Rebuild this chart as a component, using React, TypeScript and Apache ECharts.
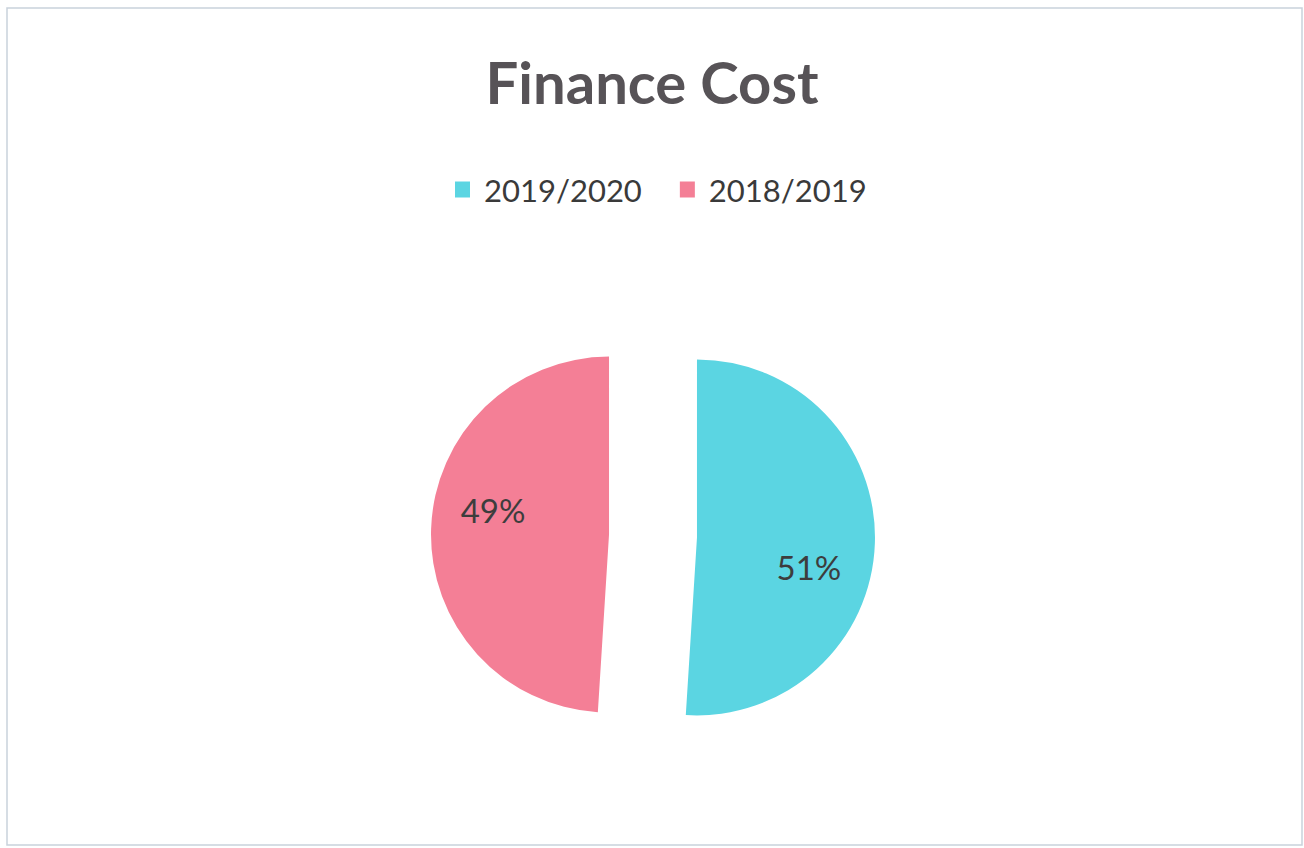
import React, { useEffect, useRef } from "react";
import * as echarts from "echarts";

const categories = ["2019/2020", "2018/2019"];
const values = [51, 49];
const colors = ["#5BD5E2", "#F47F96"];
const titleText = "Finance Cost";

export default function App() {
  const ref = useRef<HTMLDivElement>(null);
  useEffect(() => {
    if (!ref.current) return;
    const chart = echarts.init(ref.current, null, { renderer: "svg" });
    const labelShift = [
      [20, 27],
      [-24, -22],
    ];
    chart.setOption({
      animation: false,
      backgroundColor: "#ffffff",
      title: {
        text: titleText,
        left: "center",
        top: 47,
        textStyle: {
          fontFamily: "Lato",
          fontWeight: "bold",
          fontSize: 58,
          color: "#575357",
        },
      },
      legend: {
        top: 169,
        left: 450,
        icon: "rect",
        itemWidth: 15,
        itemHeight: 16,
        itemGap: 38,
        data: categories,
        textStyle: {
          fontFamily: "Lato",
          fontSize: 31,
          color: "#3a3a3a",
          padding: [0, 0, 0, 9],
        },
      },
      graphic: [
        {
          type: "rect",
          shape: { x: 7, y: 8, width: 1295, height: 837 },
          style: { fill: "none", stroke: "#c9d2dc", lineWidth: 1.5 },
          silent: true,
        },
      ],
      series: [
        {
          type: "pie",
          center: [653, 536],
          radius: 178,
          startAngle: 90,
          clockwise: true,
          selectedMode: "multiple",
          selectedOffset: 44,
          color: colors,
          label: {
            show: true,
            position: "inside",
            formatter: "{d}%",
            fontFamily: "Lato",
            fontSize: 33,
            color: "#3d3d3d",
          },
          labelLine: { show: false },
          emphasis: { disabled: true },
          labelLayout: (params: any) => ({
            dx: labelShift[params.dataIndex][0],
            dy: labelShift[params.dataIndex][1],
          }),
          data: categories.map((c, i) => ({
            name: c,
            value: values[i],
            selected: true,
          })),
        },
      ],
    });
    return () => chart.dispose();
  }, []);
  return (
    <div
      ref={ref}
      style={{ position: "fixed", left: 0, top: 0, width: 1304, height: 848 }}
    />
  );
}
